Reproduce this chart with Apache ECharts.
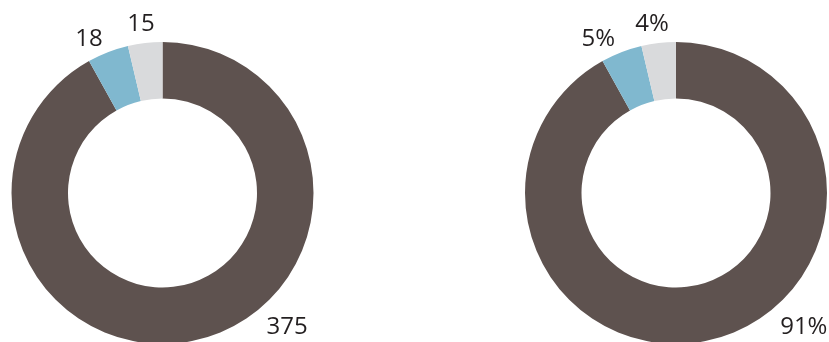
<!DOCTYPE html>
<html>
<head>
<meta charset="utf-8">
<script src="https://cdn.jsdelivr.net/npm/echarts@6/dist/echarts.min.js"></script>
<style>
html,body{margin:0;padding:0;background:#fff;}
#c{width:829px;height:342px;}
</style>
</head>
<body>
<div id="c"></div>
<script>
// Data
var categories = ['A', 'B', 'C'];
var countValues = [375, 18, 15];
var percentLabels = ['91%', '5%', '4%'];
var colors = ['#5e524f', '#80b8cf', '#d9dadc'];

var centers = [[162.5, 193], [676, 193]];
var R_OUT = 151, R_IN = 94.5;
// label placement (style): polar angle (deg clockwise from top) and distance from center
var labelPolar = [
  [[136.8, 182], [334.7, 172], [352.8, 171.5]],
  [[136.0, 184], [333.4, 173.3], [352.0, 171.7]]
];

function makeLayout(seriesIdx) {
  return function (params) {
    var c = centers[seriesIdx];
    var p = labelPolar[seriesIdx][params.dataIndex];
    var rad = p[0] * Math.PI / 180;
    return {
      x: c[0] + p[1] * Math.sin(rad),
      y: c[1] - p[1] * Math.cos(rad) + 1.5,
      align: 'center',
      verticalAlign: 'middle'
    };
  };
}

function buildData(labels) {
  return categories.map(function (name, i) {
    return {
      name: name,
      value: countValues[i],
      itemStyle: { color: colors[i] },
      label: { formatter: labels[i] }
    };
  });
}

var chart = echarts.init(document.getElementById('c'), null, { renderer: 'canvas' });
var baseLabel = {
  show: true,
  position: 'outside',
  fontFamily: 'Open Sans',
  fontSize: 24,
  color: '#231f20'
};
chart.setOption({
  backgroundColor: '#ffffff',
  animation: false,
  series: [0, 1].map(function (s) {
    return {
      type: 'pie',
      center: centers[s],
      radius: [R_IN, R_OUT],
      startAngle: 90,
      clockwise: true,
      avoidLabelOverlap: false,
      silent: true,
      label: baseLabel,
      labelLine: { show: false },
      labelLayout: makeLayout(s),
      itemStyle: { borderWidth: 0 },
      data: buildData(s === 0 ? countValues.map(String) : percentLabels)
    };
  })
});
</script>
</body>
</html>
